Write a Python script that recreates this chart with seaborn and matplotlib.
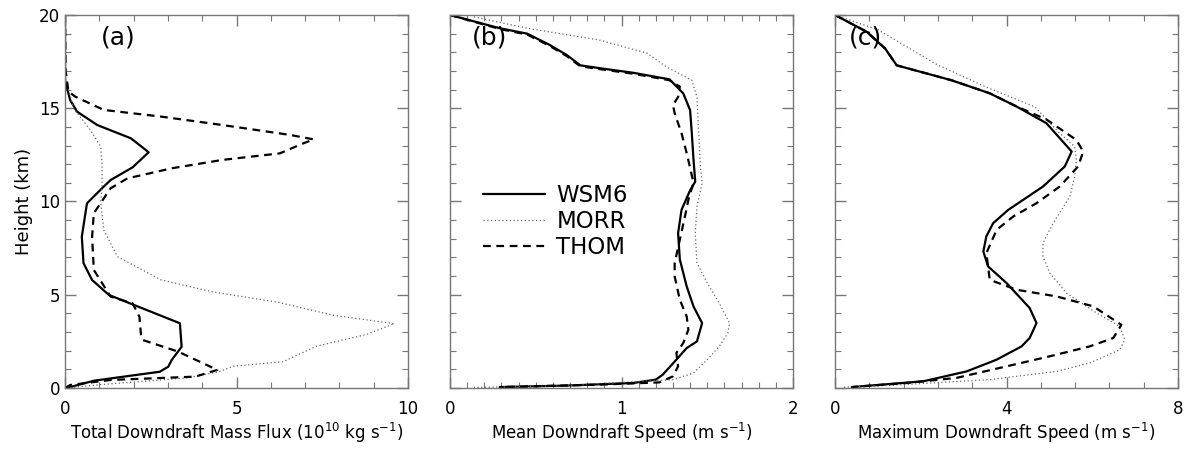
import numpy as np
import pandas as pd
import matplotlib
matplotlib.use("Agg")
import matplotlib.pyplot as plt
import seaborn as sns
from matplotlib.ticker import MultipleLocator

# ---------------- data ----------------
models = ["WSM6", "MORR", "THOM"]

# Panel (a): total downdraft mass flux (1e10 kg/s)
a_wsm6_x = [0, 0, 0.15, 0.35, 0.94, 1.92, 2.44, 1.97, 1.33, 1.08, 0.64, 0.49, 0.54, 0.79, 1.28, 3.35, 3.40, 3.11, 3.01, 2.76, 0.84, 0.05]
a_wsm6_y = [20, 16.5, 15.44, 14.82, 14.1, 13.39, 12.64, 11.83, 11.15, 10.71, 9.9, 8.11, 6.69, 5.79, 4.99, 3.47, 2.21, 1.5, 1.14, 0.87, 0.39, 0]
a_morr_x = [0, 0.02, 0.25, 0.74, 1.04, 1.08, 1.08, 1.04, 1.13, 1.53, 2.81, 4.29, 6.2, 7.82, 9.6, 8.79, 7.33, 6.36, 4.9, 4.49, 3.54, 1.02, 0.05]
a_morr_y = [20, 16.5, 15.0, 13.83, 12.94, 12.05, 10.8, 10.0, 8.47, 7.04, 5.79, 5.16, 4.6, 3.9, 3.45, 2.87, 2.24, 1.41, 1.17, 0.87, 0.54, 0.18, 0]
a_thom_x = [0, 0.02, 0.1, 0.30, 1.13, 2.81, 4.59, 6.56, 7.25, 6.95, 6.26, 4.59, 3.11, 1.82, 1.33, 0.84, 0.79, 0.84, 1.33, 1.97, 2.17, 2.22, 2.27, 3.30, 4.44, 3.80, 1.33, 0.15, 0]
a_thom_y = [20, 17, 15.9, 15.62, 14.91, 14.55, 14.1, 13.57, 13.33, 13.12, 12.58, 12.23, 11.78, 11.24, 10.71, 9.37, 8.11, 6.33, 4.9, 4.54, 3.82, 2.75, 2.57, 1.95, 0.97, 0.61, 0.43, 0.16, 0]

# Panel (b): mean downdraft speed (m/s)
b_wsm6_x = [0, 0.29, 0.45, 0.58, 0.68, 0.76, 0.91, 1.07, 1.28, 1.36, 1.40, 1.41, 1.42, 1.43, 1.40, 1.35, 1.33, 1.34, 1.38, 1.42, 1.47, 1.44, 1.38, 1.32, 1.24, 1.20, 1.07, 0.68, 0.29]
b_wsm6_y = [20, 19.29, 19.0, 18.4, 17.86, 17.3, 17.1, 16.9, 16.55, 15.8, 14.9, 13.66, 12.23, 11.07, 10.6, 9.55, 8.3, 6.9, 5.45, 4.37, 3.48, 2.5, 2.14, 1.52, 0.71, 0.45, 0.27, 0.13, 0.05]
b_morr_x = [0.14, 0.45, 0.87, 1.15, 1.26, 1.41, 1.44, 1.45, 1.46, 1.47, 1.44, 1.43, 1.44, 1.50, 1.57, 1.63, 1.62, 1.57, 1.50, 1.42, 1.30, 0.68, 0.14]
b_morr_y = [19.9, 19.29, 18.66, 17.95, 17.23, 16.5, 15.6, 13.66, 11.88, 11.0, 9.73, 8.3, 6.7, 5.63, 4.55, 3.48, 2.95, 2.23, 1.52, 0.8, 0.45, 0.13, 0.03]
b_thom_x = [0, 0.29, 0.45, 0.58, 0.68, 0.76, 0.91, 1.07, 1.28, 1.34, 1.33, 1.30, 1.31, 1.35, 1.38, 1.42, 1.39, 1.37, 1.34, 1.31, 1.31, 1.34, 1.38, 1.39, 1.36, 1.32, 1.33, 1.30, 1.22, 0.87, 0.29]
b_thom_y = [20, 19.25, 18.95, 18.35, 17.8, 17.25, 17.05, 16.85, 16.5, 16.16, 15.6, 15.18, 14.73, 13.66, 12.6, 11.0, 10.1, 9.2, 7.95, 6.7, 5.98, 4.73, 3.84, 3.13, 2.41, 1.88, 1.16, 0.625, 0.3, 0.18, 0.05]

# Panel (c): maximum downdraft speed (m/s)
c_wsm6_x = [0, 0.74, 1.17, 1.44, 2.72, 3.61, 4.23, 4.93, 5.52, 5.36, 4.85, 4.39, 4.04, 3.69, 3.53, 3.46, 3.57, 4.0, 4.54, 4.70, 4.54, 4.35, 3.77, 3.07, 2.06, 0.39]
c_wsm6_y = [20, 19.1, 18.2, 17.3, 16.5, 15.8, 15.1, 14.2, 12.68, 11.88, 10.8, 10.09, 9.55, 8.84, 8.13, 7.32, 6.52, 5.63, 4.29, 3.48, 2.68, 2.23, 1.52, 0.89, 0.36, 0.05]
c_morr_x = [0, 1.01, 2.33, 3.5, 4.66, 5.24, 5.59, 5.63, 5.59, 5.48, 5.09, 4.85, 4.85, 5.01, 5.40, 6.1, 6.64, 6.76, 6.64, 5.94, 5.17, 3.61, 1.28, 0.19]
c_morr_y = [20, 19.2, 17.4, 16.16, 15.08, 13.66, 12.95, 12.23, 11.34, 10.27, 8.84, 7.77, 7.05, 6.16, 5.09, 4.02, 3.3, 2.59, 2.05, 1.34, 0.89, 0.45, 0.14, 0.04]
c_thom_x = [0, 0.74, 1.17, 1.44, 2.72, 3.61, 4.23, 4.93, 5.63, 5.79, 5.67, 5.24, 4.70, 4.16, 3.77, 3.53, 3.61, 4.23, 5.17, 6.02, 6.68, 6.49, 5.94, 5.01, 4.0, 2.83, 1.67, 0.39]
c_thom_y = [20, 19.1, 18.2, 17.3, 16.5, 15.8, 15.1, 14.4, 13.3, 12.68, 11.88, 10.8, 9.91, 9.2, 8.48, 7.23, 5.8, 5.27, 4.91, 4.38, 3.39, 2.68, 2.23, 1.7, 1.16, 0.54, 0.27, 0.05]

xlabels = ["Total Downdraft Mass Flux (10$^{10}$ kg s$^{-1}$)",
           "Mean Downdraft Speed (m s$^{-1}$)",
           "Maximum Downdraft Speed (m s$^{-1}$)"]
panel_tags = ["(a)", "(b)", "(c)"]
xlims = [(0, 10), (0, 2), (0, 8)]
xmajor = [5, 1, 4]
xminor = [1, 0.1, 0.8]
tag_pos = [(1.55, 18.8), (0.23, 18.8), (0.7, 18.8)]

panels = [
    {"WSM6": (a_wsm6_x, a_wsm6_y), "MORR": (a_morr_x, a_morr_y), "THOM": (a_thom_x, a_thom_y)},
    {"WSM6": (b_wsm6_x, b_wsm6_y), "MORR": (b_morr_x, b_morr_y), "THOM": (b_thom_x, b_thom_y)},
    {"WSM6": (c_wsm6_x, c_wsm6_y), "MORR": (c_morr_x, c_morr_y), "THOM": (c_thom_x, c_thom_y)},
]

styles = {
    "WSM6": dict(color="black", linestyle="-", linewidth=1.6),
    "MORR": dict(color="#666666", linestyle=(0, (1, 2)), linewidth=0.9),
    "THOM": dict(color="black", linestyle=(0, (3.5, 2.5)), linewidth=1.6),
}

sns.set_style("ticks")
plt.rcParams["font.family"] = ["DejaVu Sans"]
plt.rcParams["text.color"] = "black"
plt.rcParams["axes.labelcolor"] = "black"

fig = plt.figure(figsize=(11.91, 4.5), dpi=100)
lefts = [65 / 1191, 450 / 1191, 835 / 1191]
w = 343 / 1191
bottom = (450 - 388) / 450
h = 373 / 450
spine_col = "#777777"

for i, (left, pdata) in enumerate(zip(lefts, panels)):
    ax = fig.add_axes([left, bottom, w, h])
    for m in models:
        xs, ys = pdata[m]
        df = pd.DataFrame({"x": xs, "y": ys})
        sns.lineplot(data=df, x="x", y="y", sort=False, estimator=None,
                     ax=ax, label=m, legend=False, **styles[m])
    ax.set_xlim(*xlims[i])
    ax.set_ylim(0, 20)
    ax.xaxis.set_major_locator(MultipleLocator(xmajor[i]))
    ax.xaxis.set_minor_locator(MultipleLocator(xminor[i]))
    ax.yaxis.set_major_locator(MultipleLocator(5))
    ax.yaxis.set_minor_locator(MultipleLocator(1))
    ax.tick_params(which="both", direction="in", top=True, right=True,
                   color=spine_col, labelcolor="black", labelsize=12)
    ax.tick_params(which="major", length=8, width=1)
    ax.tick_params(which="minor", length=4, width=0.8)
    ax.tick_params(axis="x", pad=9)
    for s in ax.spines.values():
        s.set_color(spine_col)
        s.set_linewidth(1)
    ax.set_xlabel(xlabels[i], fontsize=12, labelpad=2, color="black")
    if i == 0:
        ax.set_ylabel("Height (km)", fontsize=13, labelpad=4, color="black")
        ax.set_yticks([0, 5, 10, 15, 20])
    else:
        ax.set_ylabel("")
        ax.tick_params(axis="y", labelleft=False)
    ax.text(tag_pos[i][0], tag_pos[i][1], panel_tags[i], fontsize=18,
            ha="center", va="center", color="black")
    if i == 1:
        leg = ax.legend(loc="upper left", bbox_to_anchor=(0.096, 0.548), frameon=False,
                        fontsize=16.5, handlelength=2.7, handletextpad=0.5,
                        labelspacing=0.15, borderpad=0, borderaxespad=0)
        for t in leg.get_texts():
            t.set_color("black")

fig.savefig("out.png", dpi=100)
